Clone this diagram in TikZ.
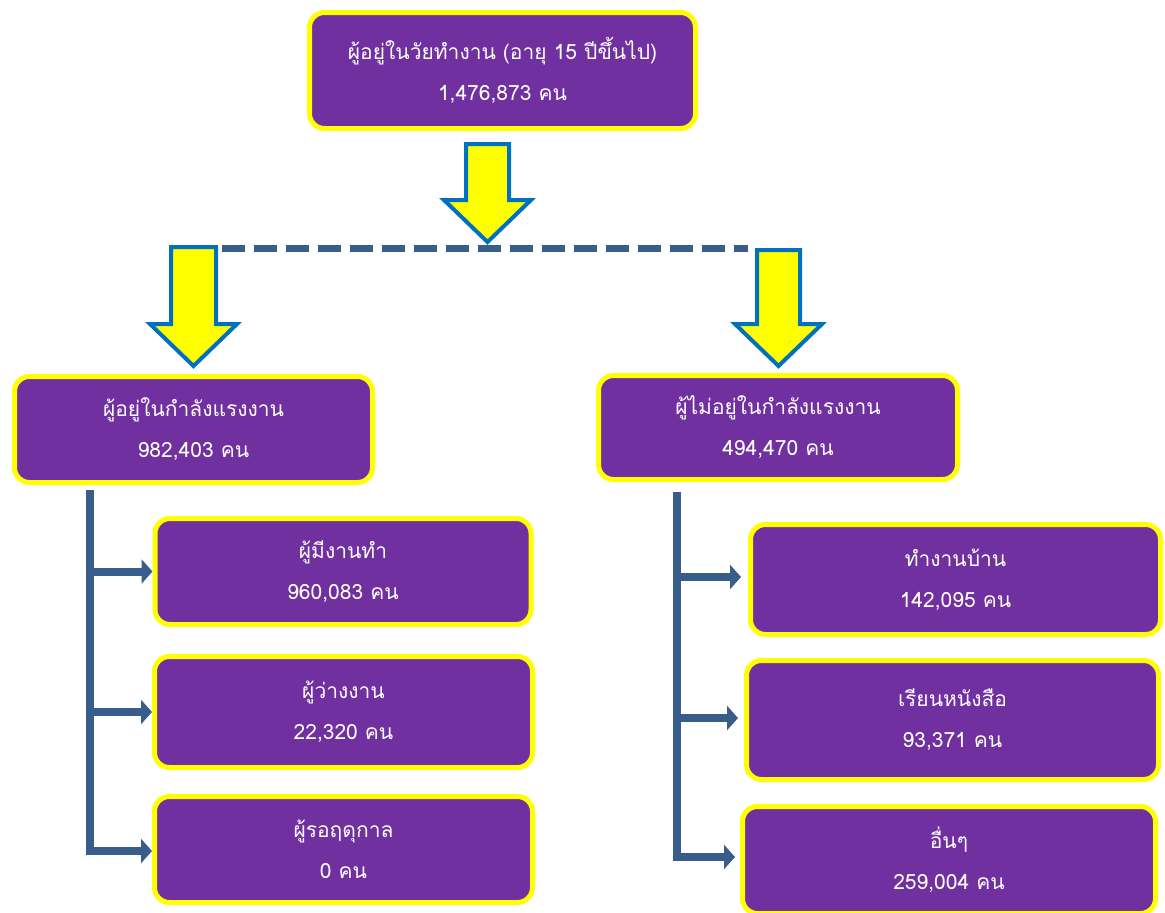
\documentclass[tikz,border=0pt]{standalone}
\usepackage{fontspec}
\newfontfamily\thaifont[Script=Thai]{Loma}
\usetikzlibrary{arrows.meta}
\definecolor{boxpurple}{HTML}{7030A0}
\definecolor{boxyellow}{HTML}{FFFF00}
\definecolor{connblue}{HTML}{385D8A}
\definecolor{arrowblue}{HTML}{0070C0}
\begin{document}
\begin{tikzpicture}[x=1pt,y=-1pt,
  box/.style={draw=boxyellow, line width=5pt, fill=boxpurple, rounded corners=15pt,
    text=white, align=center, inner sep=0pt,
    font=\thaifont\fontsize{21}{41}\selectfont},
  conn/.style={draw=connblue, line width=8pt},
  connarrow/.style={draw=connblue, line width=8pt, -{Triangle[length=11pt,width=24pt]}},
  blockarrow/.style={draw=arrowblue, line width=4pt, fill=boxyellow, line join=miter},
  dashconn/.style={draw=connblue, line width=7pt, dash pattern=on 23pt off 9pt}
]
\useasboundingbox (0,0) rectangle (1165,913);

% boxes
\node[box, minimum width=386pt, minimum height=116pt] (top) at (502.5,70.5)
  {ผู้อยู่ในวัยทำงาน (อายุ 15 ปีขึ้นไป)\\1,476,873 คน};
\node[box, minimum width=358pt, minimum height=106pt] (lm) at (193.5,429.5)
  {ผู้อยู่ในกำลังแรงงาน\\982,403 คน};
\node[box, minimum width=359pt, minimum height=104pt] (rm) at (778,427.5)
  {ผู้ไม่อยู่ในกำลังแรงงาน\\494,470 คน};

\node[box, minimum width=376pt, minimum height=106pt] (l1) at (343,571.5)
  {ผู้มีงานทำ\\960,083 คน};
\node[box, minimum width=378pt, minimum height=111pt] (l2) at (343.5,712)
  {ผู้ว่างงาน\\22,320 คน};
\node[box, minimum width=378pt, minimum height=106pt] (l3) at (343.5,849.5)
  {ผู้รอฤดุกาล\\0 คน};

\node[box, minimum width=410pt, minimum height=110pt] (r1) at (955.5,579.5)
  {ทำงานบ้าน\\142,095 คน};
\node[box, minimum width=412pt, minimum height=119pt] (r2) at (952.5,720)
  {เรียนหนังสือ\\93,371 คน};
\node[box, minimum width=413pt, minimum height=107pt] (r3) at (949,860)
  {อื่นๆ\\259,004 คน};

% block arrows
\draw[blockarrow] (466,144) -- (509,144) -- (509,200) -- (531,200) -- (487.5,242)
  -- (444,200) -- (466,200) -- cycle;
\draw[blockarrow] (171,247) -- (216,247) -- (216,324) -- (237,324) -- (193.5,366)
  -- (150,324) -- (171,324) -- cycle;
\draw[blockarrow] (757,250) -- (800,250) -- (800,324) -- (822,324) -- (778.5,366)
  -- (735,324) -- (757,324) -- cycle;

% dashed connector
\coordinate (dl) at (222,248);
\coordinate (dr) at (748,248);
\draw[dashconn] (dl) -- (dr);

% left tree
\coordinate (lv0) at (90,490);
\coordinate (lv1) at (90,855);
\coordinate (lb3) at (86,851);
\draw[conn] (lv0) -- (lv1);
\draw[connarrow] (lv0 |- l1.west) -- (l1.west);
\draw[connarrow] (lv0 |- l2.west) -- (l2.west);
\draw[connarrow] (lb3) -- (lb3 -| l3.west);

% right tree
\coordinate (rv0) at (677,492);
\coordinate (rv1) at (677,861);
\coordinate (rb3) at (673,857);
\draw[conn] (rv0) -- (rv1);
\draw[connarrow] (rv0 |- 0,577) -- (741,577);
\draw[connarrow] (rv0 |- 0,718) -- (738,718);
\draw[connarrow] (rb3) -- (735,857);
\end{tikzpicture}
\end{document}
